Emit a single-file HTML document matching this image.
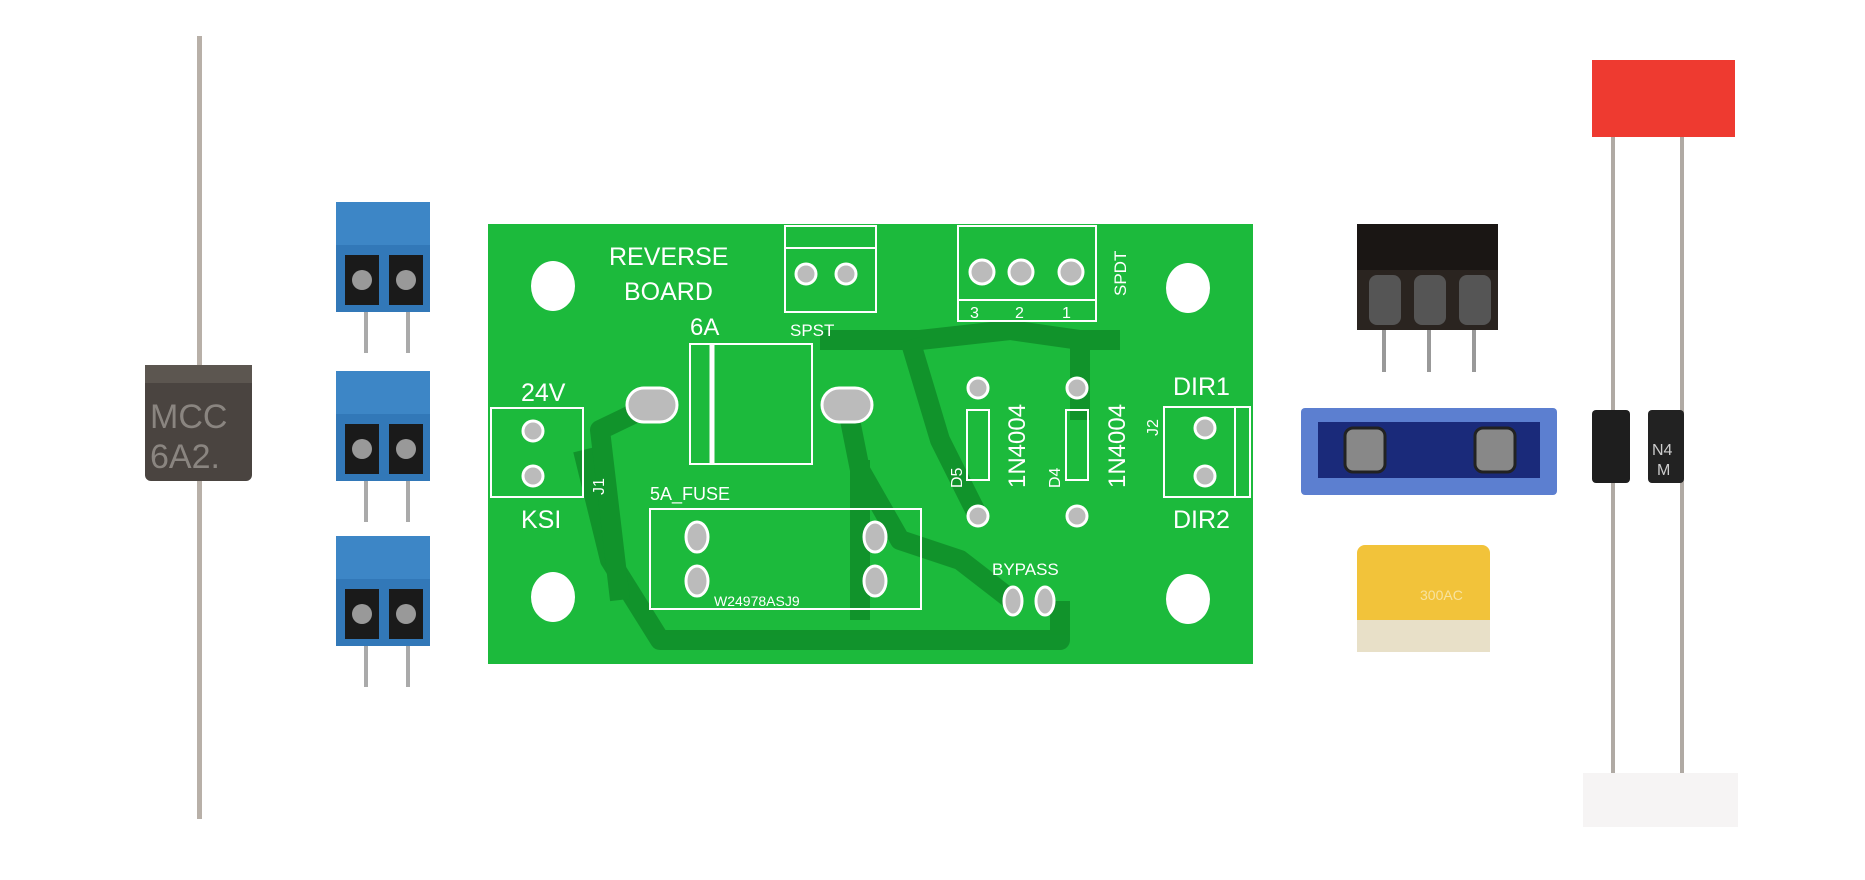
<!DOCTYPE html>
<html><head><style>html,body{margin:0;padding:0;background:#fff;width:1865px;height:880px;overflow:hidden}svg{display:block}</style></head>
<body>
<svg width="1865" height="880" viewBox="0 0 1865 880" xmlns="http://www.w3.org/2000/svg" font-family="Liberation Sans, sans-serif">
<!-- big diode -->
<rect x="197" y="36" width="5" height="783" fill="#b8b0a8"/>
<rect x="145" y="365" width="107" height="116" rx="6" fill="#4a4440"/>
<rect x="145" y="365" width="107" height="18" fill="#5c5650"/>
<text x="150" y="428" font-size="34" fill="#8a8580">MCC</text>
<text x="150" y="468" font-size="34" fill="#8a8580">6A2.</text>
<!-- blue terminals -->
<g id="t1">
<rect x="336" y="202" width="94" height="48" fill="#3d86c6"/>
<rect x="336" y="245" width="94" height="67" fill="#3278b8"/>
<rect x="345" y="255" width="34" height="50" fill="#1a1a1a"/><rect x="389" y="255" width="34" height="50" fill="#1a1a1a"/>
<circle cx="362" cy="280" r="10" fill="#999"/><circle cx="406" cy="280" r="10" fill="#999"/>
<rect x="364" y="312" width="4" height="41" fill="#aaa"/><rect x="406" y="312" width="4" height="41" fill="#aaa"/>
</g>
<use href="#t1" y="169"/>
<use href="#t1" y="334"/>
<!-- PCB -->
<rect x="488" y="224" width="765" height="440" fill="#1cba3c"/>
<g stroke="#0f8a28" stroke-width="20" fill="none" opacity="0.8" stroke-linejoin="round">
<path d="M583 450 L610 560 L660 640 L1060 640 L1060 601"/>
<path d="M652 405 L600 430 L620 600"/>
<path d="M847 405 L860 470 L900 540 L960 560 L1013 601"/>
<path d="M820 340 L920 340 L1010 330 L1080 340 L1120 340"/>
<path d="M860 460 L860 620"/>
<path d="M910 340 L940 440 L978 516"/>
<path d="M1080 330 L1080 420"/>
</g>
<g fill="#fff">
<ellipse cx="553" cy="286" rx="22" ry="25"/><ellipse cx="1188" cy="288" rx="22" ry="25"/>
<ellipse cx="553" cy="597" rx="22" ry="25"/><ellipse cx="1188" cy="599" rx="22" ry="25"/>
</g>
<g fill="none" stroke="#fff" stroke-width="2">
<rect x="785" y="226" width="91" height="86"/><line x1="785" y1="248" x2="876" y2="248"/>
<rect x="958" y="226" width="138" height="95"/><line x1="958" y1="300" x2="1096" y2="300"/>
<rect x="690" y="344" width="122" height="120"/><line x1="712" y1="344" x2="712" y2="464" stroke-width="5"/>
<rect x="491" y="408" width="92" height="89"/>
<rect x="650" y="509" width="271" height="100"/>
<rect x="1164" y="407" width="86" height="90"/><line x1="1235" y1="407" x2="1235" y2="497"/>
<rect x="967" y="410" width="22" height="70"/><rect x="1066" y="410" width="22" height="70"/>
</g>
<g fill="#fff" font-size="25">
<text x="609" y="265">REVERSE</text><text x="624" y="300">BOARD</text>
<text x="690" y="335" font-size="24">6A</text>
<text x="790" y="336" font-size="17">SPST</text>
<text x="970" y="318" font-size="16">3</text><text x="1015" y="318" font-size="16">2</text><text x="1062" y="318" font-size="16">1</text>
<text x="521" y="401">24V</text><text x="521" y="528">KSI</text>
<text x="1173" y="395">DIR1</text><text x="1173" y="528">DIR2</text>
<text x="650" y="500" font-size="18">5A_FUSE</text>
<text x="714" y="606" font-size="14">W24978ASJ9</text>
<text x="992" y="575" font-size="17">BYPASS</text>
<text transform="translate(1126,296) rotate(-90)" font-size="17">SPDT</text>
<text transform="translate(1025,488) rotate(-90)" font-size="24">1N4004</text>
<text transform="translate(1125,488) rotate(-90)" font-size="24">1N4004</text>
<text transform="translate(962,488) rotate(-90)" font-size="16">D5</text>
<text transform="translate(1060,488) rotate(-90)" font-size="16">D4</text>
<text transform="translate(604,495) rotate(-90)" font-size="16">J1</text>
<text transform="translate(1158,436) rotate(-90)" font-size="16">J2</text>
</g>
<g fill="#bbb" stroke="#fff" stroke-width="3">
<circle cx="806" cy="274" r="10"/><circle cx="846" cy="274" r="10"/>
<circle cx="982" cy="272" r="12"/><circle cx="1021" cy="272" r="12"/><circle cx="1071" cy="272" r="12"/>
<rect x="627" y="388" width="50" height="34" rx="17"/><rect x="822" y="388" width="50" height="34" rx="17"/>
<circle cx="533" cy="431" r="10"/><circle cx="533" cy="476" r="10"/>
<circle cx="1205" cy="428" r="10"/><circle cx="1205" cy="476" r="10"/>
<circle cx="978" cy="388" r="10"/><circle cx="978" cy="516" r="10"/><circle cx="1077" cy="388" r="10"/><circle cx="1077" cy="516" r="10"/>
<ellipse cx="697" cy="537" rx="11" ry="15"/><ellipse cx="875" cy="537" rx="11" ry="15"/>
<ellipse cx="697" cy="581" rx="11" ry="15"/><ellipse cx="875" cy="581" rx="11" ry="15"/>
<ellipse cx="1013" cy="601" rx="9" ry="14"/><ellipse cx="1045" cy="601" rx="9" ry="14"/>
</g>
<!-- black header -->
<rect x="1357" y="224" width="141" height="50" fill="#1a1614"/>
<rect x="1357" y="270" width="141" height="60" fill="#2a2420"/>
<g fill="#555"><rect x="1369" y="275" width="32" height="50" rx="8"/><rect x="1414" y="275" width="32" height="50" rx="8"/><rect x="1459" y="275" width="32" height="50" rx="8"/></g>
<g fill="#999"><rect x="1382" y="330" width="4" height="42"/><rect x="1427" y="330" width="4" height="42"/><rect x="1472" y="330" width="4" height="42"/></g>
<!-- blue jumper -->
<rect x="1301" y="408" width="256" height="87" rx="4" fill="#5c7fd0"/>
<rect x="1318" y="422" width="222" height="56" fill="#1a2a7a"/>
<rect x="1345" y="428" width="40" height="44" rx="8" fill="#888" stroke="#222" stroke-width="3"/>
<rect x="1475" y="428" width="40" height="44" rx="8" fill="#888" stroke="#222" stroke-width="3"/>
<!-- yellow fuse -->
<rect x="1357" y="545" width="133" height="107" rx="8" fill="#f2c33a"/>
<rect x="1357" y="620" width="133" height="32" fill="#e8e0c8"/>
<text x="1420" y="600" font-size="14" fill="#f7e3a0">300AC</text>
<!-- red tape -->
<rect x="1592" y="60" width="143" height="77" fill="#ee3a30"/>
<!-- diode leads -->
<rect x="1611" y="137" width="4" height="636" fill="#b0aaa4"/>
<rect x="1680" y="137" width="4" height="636" fill="#b0aaa4"/>
<rect x="1592" y="410" width="38" height="73" rx="4" fill="#1e1e1e"/>
<rect x="1648" y="410" width="36" height="73" rx="4" fill="#222"/>
<text x="1652" y="455" font-size="16" fill="#ccc">N4</text>
<text x="1657" y="475" font-size="16" fill="#ccc">M</text>
<rect x="1583" y="773" width="155" height="54" fill="#f6f4f4"/>
</svg>
</body></html>
